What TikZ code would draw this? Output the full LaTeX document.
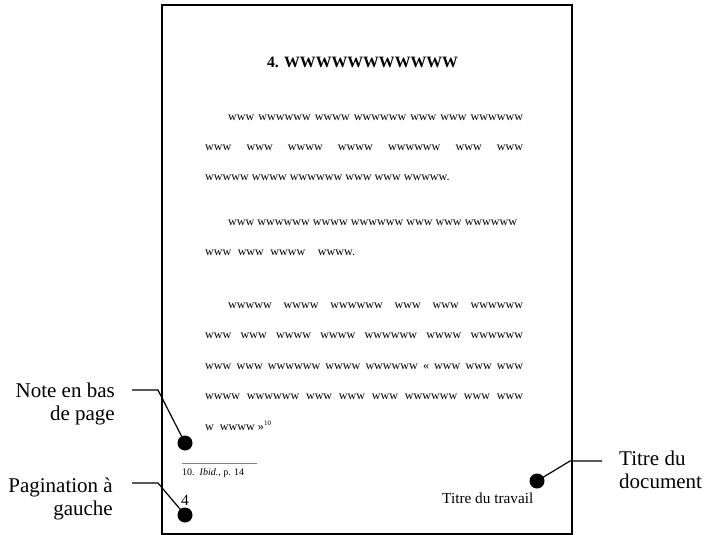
\documentclass[tikz,border=0pt]{standalone}
\usepackage{fontspec}
\setmainfont{Liberation Serif}
\begin{document}
\begin{tikzpicture}[x=1pt,y=-1pt,
  txt/.style={inner sep=0pt, anchor=base west, font=\fontsize{12.1}{14}\selectfont},
  lbl/.style={inner sep=0pt, font=\fontsize{21}{24}\selectfont},
  dot/.style={circle, fill=black, inner sep=0pt, minimum size=15pt},
  conn/.style={line width=1.2pt}]
\useasboundingbox (0,0) rectangle (704,535);
% page
\node[draw, line width=1.8pt, minimum width=410pt, minimum height=529pt, inner sep=0pt, anchor=north west] (page) at (161,4) {};
% title
\node[inner sep=0pt, anchor=base, font=\fontsize{15.8}{18}\selectfont\bfseries] (title) at (362.5,67) {4. WWWWWWWWWWW};
% paragraph 1
\node[txt] (l1) at (228,120) {\makebox[295pt][s]{www wwwwww wwww wwwwww www www wwwwww}};
\node[txt] (l2) at (205,150) {\makebox[318pt][s]{www www wwww wwww wwwwww www www}};
\node[txt] (l3) at (205,180) {wwwww wwww wwwwww www www wwwww.};
% paragraph 2
\node[txt] (l4) at (228,225) {www wwwwww wwww wwwwww www www wwwwww};
\node[txt] (l5) at (205,255) {\makebox[150pt][s]{www www wwww\ \ wwww.}};
% paragraph 3
\node[txt] (l6) at (228,308) {\makebox[295pt][s]{wwwww wwww wwwwww www www wwwwww}};
\node[txt] (l7) at (205,338.5) {\makebox[318pt][s]{www www wwww wwww wwwwww wwww wwwwww}};
\node[txt] (l8) at (205,369) {\makebox[318pt][s]{www www wwwwww wwww wwwwww « www www www}};
\node[txt] (l9) at (205,399.5) {\makebox[318pt][s]{wwww wwwwww www www www wwwwww www www}};
\node[txt] (l10) at (205,430) {w\ \ wwww »\raisebox{5pt}{\fontsize{7}{8}\selectfont 10}};
% footnote
\coordinate (fr0) at (182,463);
\coordinate (fr1) at (257,463);
\draw[gray, line width=0.8pt] (fr0) -- (fr1);
\node[txt, font=\fontsize{10}{12}\selectfont] (fn) at (182,475) {10.\ \ \textit{Ibid.}, p. 14};
% page number and document title
\node[txt, font=\fontsize{15.5}{18}\selectfont] (pnum) at (181,505) {4};
\node[txt, font=\fontsize{15.3}{18}\selectfont] (ttrav) at (442,503) {Titre du travail};
% dots
\node[dot] (d1) at (185,443) {};
\node[dot] (d2) at (185,515) {};
\node[dot] (d3) at (537,481) {};
% labels
\node[lbl, anchor=base east] (note1) at (115,397) {Note en bas};
\node[lbl, anchor=base east] (note2) at (115,420) {de page};
\node[lbl, anchor=base east] (pag1) at (113,492) {Pagination à};
\node[lbl, anchor=base east] (pag2) at (113,515) {gauche};
\node[lbl, anchor=base west] (tit1) at (619,465) {Titre du};
\node[lbl, anchor=base west] (tit2) at (619,488) {document};
% connectors
\coordinate (n0) at (132,390);
\coordinate (n1) at (158,390);
\coordinate (p0) at (132,483);
\coordinate (p1) at (158,483);
\coordinate (t0) at (602,461);
\coordinate (t1) at (570,461);
\draw[conn] (n0) -- (n1) -- (d1.center);
\draw[conn] (p0) -- (p1) -- (d2.center);
\draw[conn] (t0) -- (t1) -- (d3.center);
\end{tikzpicture}
\end{document}
